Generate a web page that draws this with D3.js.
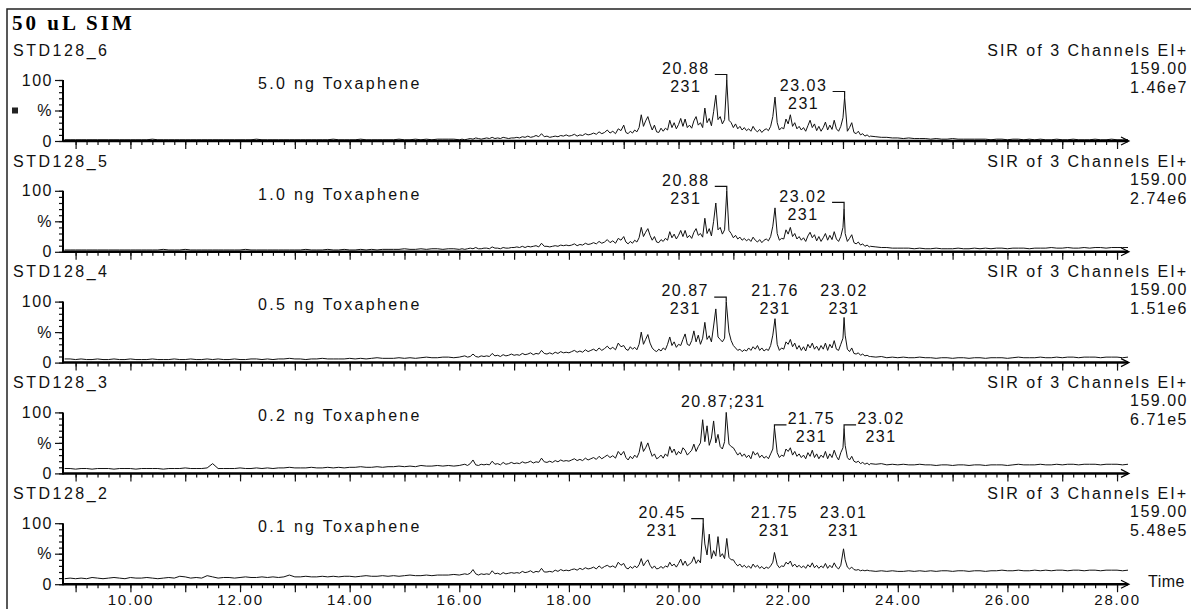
<!DOCTYPE html>
<html>
<head>
<meta charset="utf-8">
<script src="https://cdn.jsdelivr.net/npm/d3@7/dist/d3.min.js"></script>
<style>
  html, body { margin: 0; padding: 0; background: #fff; }
  svg { display: block; }
  text { font-family: "Liberation Sans", Arial, sans-serif; fill: #111; }
</style>
</head>
<body>
<svg id="chart" width="1191" height="609"></svg>
<script>
// ---- Acquisition sampling: [start minute, step, number of scans] ----
const sampleSegments = [[8.8, 0.1, 72], [16.0, 0.05, 60], [19.0, 0.04, 113], [23.5, 0.1, 48]];

// ---- Panel texts ----
const panelNames   = ["STD128_6", "STD128_5", "STD128_4", "STD128_3", "STD128_2"];
const panelAmounts = ["5.0 ng Toxaphene", "1.0 ng Toxaphene", "0.5 ng Toxaphene", "0.2 ng Toxaphene", "0.1 ng Toxaphene"];
const panelScales  = ["1.46e7", "2.74e6", "1.51e6", "6.71e5", "5.48e5"];
const channelTitle = "SIR of 3 Channels EI+";
const channelMass  = "159.00";
const quantIon     = "231";
const titleText    = "50 uL SIM";

// ---- Axis labels ----
const timeTickValues = [10, 12, 14, 16, 18, 20, 22, 24, 26, 28];
const timeTickLabels = ["10.00", "12.00", "14.00", "16.00", "18.00", "20.00", "22.00", "24.00", "26.00", "28.00"];
const yTickValues = [0, 50, 100];
const yTickLabels = ["0", "%", "100"];

// ---- Relative intensity (%) per scan, one array per injection ----
const trace128_6 = [
  2,2,2,2,2,2,2,2,2,2, 2,2,2,2,2,2,3,2,2,2, 2,2,2,2,2,2,2,2,2,2, 2,2,2,2,2,3,2,2,2,2,
  2,2,2,2,2,2,2,2,2,3, 2,2,2,2,3,2,2,2,2,2, 2,3,2,2,3,2,3,2,3,3, 3,3,
  2,3,2,3,4,3,5,4,3,4, 5,4,6,4,5,4,6,5,4,5, 5,6,5,7,6,8,6,7,9,7,
  12,7,8,6,7,8,7,9,8,10, 8,9,11,8,10,9,12,10,11,13, 11,15,12,14,18,13,16,12,20,17,
  26,14,12,16,13,18,15,22,43,24, 33,40,28,18,26,15,14,21,16,21, 18,34,22,30,20,27,37,24,36,22,
  26,21,33,40,26,30,22,54,30,37, 25,48,75,35,40,28,35,60,34,30, 22,28,20,24,18,22,17,20,16,24,
  18,15,19,14,18,20,17,24,40,72, 30,18,22,20,36,28,43,24,30,20, 24,18,22,16,25,34,22,28,17,24,
  16,22,31,18,26,19,34,20,16,24, 38,30,16,22,30,14,12,16,10,12, 8,10,7,
  8,7,6,6,5,5,4,5,4,4, 4,3,4,3,3,4,3,3,3,3, 3,3,2,3,3,2,3,3,2,3, 2,3,2,2,3,2,2,3,2,2, 2,3,2,2,3,2,2,2
];
const trace128_5 = [
  3,3,3,3,3,3,3,3,3,3, 3,3,3,3,3,3,3,3,4,3, 3,3,4,3,3,3,3,3,3,3, 3,3,3,4,3,3,3,3,3,3,
  3,3,3,3,4,3,3,3,4,3, 3,4,3,3,4,3,4,3,4,4, 4,4,5,4,4,5,4,5,5,4, 5,5,
  4,5,4,5,6,5,7,5,5,6, 6,5,8,6,6,5,7,6,6,7, 7,8,7,9,7,9,8,9,10,8,
  14,9,9,8,9,10,9,11,10,11, 10,11,13,10,12,11,14,12,13,15, 13,17,14,16,20,15,18,14,22,19,
  25,16,13,17,14,19,16,23,40,25, 32,38,27,19,25,16,15,20,17,22, 19,33,23,29,21,27,35,25,35,23,
  27,22,32,38,27,30,24,55,30,38, 26,50,80,36,40,29,36,60,35,30, 23,27,21,24,19,22,18,21,17,24,
  19,16,20,15,19,21,18,25,42,72, 30,19,22,21,36,29,40,25,30,21, 25,19,23,17,26,32,23,28,18,25,
  17,23,30,19,27,20,33,21,17,25, 40,30,17,22,28,15,13,16,11,13, 9,11,8,
  9,8,7,7,6,6,6,6,5,6, 5,5,6,5,5,5,6,5,5,6, 5,6,5,6,6,5,6,6,6,5, 6,6,6,7,6,6,7,6,6,7, 6,7,7,6,7,7,7,7
];
const trace128_4 = [
  6,6,5,6,5,5,6,5,5,6, 5,5,6,5,5,5,6,5,5,5, 6,5,5,6,5,5,6,5,6,5, 5,6,5,5,6,6,5,6,5,6,
  6,7,6,6,5,6,6,7,6,6, 6,6,7,6,7,6,7,8,7,7, 7,8,7,8,7,8,9,8,8,9, 9,8,
  9,10,11,9,10,14,10,9,11,10, 11,10,15,11,12,10,13,11,12,14, 12,13,12,15,13,14,16,13,15,14,
  20,15,14,16,14,17,15,18,16,17, 16,18,20,17,19,17,21,18,20,22, 19,24,20,23,27,22,25,21,32,26,
  28,22,20,26,22,25,21,30,50,30, 38,46,32,24,20,18,22,19,24,21, 30,42,28,34,25,30,28,38,47,30,
  28,36,52,34,45,30,40,66,38,44, 34,60,88,42,38,34,40,55,50,36, 28,24,20,22,18,21,19,24,20,26,
  22,28,20,24,19,22,20,28,45,40, 30,20,24,22,34,30,38,26,32,22, 28,20,26,19,30,24,32,22,27,20,
  28,22,32,20,30,24,36,22,20,30, 40,45,22,18,24,15,14,16,12,14, 11,12,10,
  10,9,10,8,9,8,9,8,8,9, 8,8,7,8,8,7,8,8,7,8, 8,7,8,8,8,7,8,9,8,8, 8,9,8,8,9,8,9,9,8,9, 9,9,8,9,9,9,8,9
];
const trace128_3 = [
  8,8,7,8,8,7,8,8,8,7, 8,8,8,7,8,8,8,8,7,8, 8,8,9,8,8,8,9,16,8,8, 8,8,9,8,8,9,8,9,8,9,
  9,10,9,9,9,10,9,9,10,9, 10,9,10,10,11,10,10,11,10,11, 11,12,11,12,11,13,12,12,13,12, 13,12,
  13,14,15,13,16,22,14,13,15,14, 15,14,20,15,16,14,18,15,16,18, 16,17,16,19,17,18,20,17,19,18,
  25,19,18,20,18,21,19,22,20,21, 20,22,24,21,23,21,25,22,24,26, 23,28,24,27,30,26,29,25,36,30,
  36,26,22,28,24,30,26,34,52,36, 42,50,38,28,32,24,26,30,25,32, 28,44,34,40,30,36,32,42,38,30,
  34,38,48,36,44,50,88,52,78,46, 58,86,50,64,44,40,52,60,48,44, 42,36,30,34,28,32,26,30,24,36,
  30,34,26,30,25,28,24,32,40,70, 34,26,30,28,40,36,42,30,36,28, 32,26,30,24,34,28,38,26,32,24,
  30,26,36,24,32,26,38,28,22,34, 42,46,26,22,28,20,18,20,16,18, 15,17,14,
  16,15,16,14,15,14,15,14,14,15, 14,14,13,14,14,13,14,14,13,14, 14,13,14,14,14,13,14,15,14,14, 14,15,14,14,15,14,15,15,14,15, 15,15,14,15,15,15,14,15
];
const trace128_2 = [
  9,10,9,10,9,11,10,9,10,11, 10,9,11,10,10,11,10,9,10,11, 10,13,12,10,11,10,14,12,10,11, 11,10,11,12,11,11,12,11,12,11,
  12,15,12,12,13,12,12,13,12,13, 12,13,13,12,13,14,13,13,14,13, 14,13,14,15,14,14,15,14,15,15, 15,16,
  15,16,17,16,18,24,17,15,17,16, 17,16,22,17,18,16,19,17,18,19, 18,19,18,21,19,20,22,19,21,20,
  26,20,20,21,20,23,21,24,22,23, 22,24,25,23,26,24,27,25,26,28, 25,30,26,29,31,28,30,27,36,31,
  34,27,25,29,26,30,27,32,42,30, 36,40,31,26,30,25,26,29,26,30, 28,36,30,33,28,34,41,31,38,30,
  33,36,45,34,40,35,40,66,48,82, 42,55,46,78,45,50,42,75,44,40, 40,34,30,33,28,31,27,30,26,33,
  28,31,26,29,25,28,26,30,36,44, 32,27,30,29,36,33,38,29,33,28, 31,27,30,26,32,28,35,27,31,26,
  30,27,34,26,31,27,35,28,25,31, 36,40,28,25,28,24,23,24,22,23, 22,23,22,
  22,21,22,21,22,21,21,22,21,22, 21,22,21,22,22,21,22,22,21,22, 22,21,22,22,23,22,22,23,22,22, 23,22,23,22,23,23,22,23,23,22, 23,23,22,23,23,23,22,23
];

// ---- Labelled peak apexes [retention time, %] ----
const apex128_6 = [[20.88, 100], [23.03, 72]];
const apex128_5 = [[20.88, 100], [23.02, 71]];
const apex128_4 = [[20.87, 100], [21.76, 72], [23.02, 74]];
const apex128_3 = [[20.87, 100], [21.75, 76], [23.02, 74]];
const apex128_2 = [[20.45, 100], [21.75, 52], [23.01, 58]];

const traces = [trace128_6, trace128_5, trace128_4, trace128_3, trace128_2];
const apexes = [apex128_6, apex128_5, apex128_4, apex128_3, apex128_2];

// ---- Drawing ----
const svg = d3.select("#chart");
const sampleTimes = sampleSegments.flatMap(([s, st, n]) => d3.range(n).map(i => +(s + i * st).toFixed(2)));

const x = d3.scaleLinear().domain([8.77, 28.2]).range([63, 1128]);
const PANEL_STEP = 110.8, TOP100 = 80, TOP0 = 141;

// how each peak annotation sits relative to its peak (mode, row offset from the 100% line)
const labelPlacement = [
  [{ mode: "left", row: -12 }, { mode: "left", row: 5 }],
  [{ mode: "left", row: -11 }, { mode: "left", row: 5 }],
  [{ mode: "left", row: -11 }, { mode: "center", row: -11 }, { mode: "center", row: -11 }],
  [{ mode: "inline", row: -11 }, { mode: "right", row: 6 }, { mode: "right", row: 6 }],
  [{ mode: "left", row: -11 }, { mode: "center", row: -11 }, { mode: "center", row: -11 }]
];

const fmtRT = d3.format(".2f");

function label(g, px, py, str, opt = {}) {
  return g.append("text")
    .attr("x", px).attr("y", py).attr("dy", "0.36em")
    .attr("text-anchor", opt.anchor || "start")
    .style("font-size", (opt.size || 16) + "px")
    .style("letter-spacing", (opt.ls == null ? 1.5 : opt.ls) + "px")
    .text(str);
}

function buildTrace(values, peaks) {
  const pts = sampleTimes.map((t, i) => [t, values[i]])
    .filter(p => p[1] != null && !peaks.some(a => Math.abs(a[0] - p[0]) < 0.015));
  return pts.concat(peaks).sort((a, b) => a[0] - b[0]);
}

// frame and title
svg.append("path").attr("d", "M7,609V9H1191").attr("fill", "none").attr("stroke", "#222").attr("stroke-width", 1.5);
svg.append("text").attr("x", 12).attr("y", 30)
  .style("font-family", '"Liberation Serif", "Times New Roman", serif')
  .style("font-weight", "bold").style("font-size", "21px").style("letter-spacing", "3px")
  .style("fill", "#000").text(titleText);

traces.forEach((values, k) => {
  const y100 = TOP100 + PANEL_STEP * k;
  const y0 = TOP0 + PANEL_STEP * k;
  const y = d3.scaleLinear().domain([0, 100]).range([y0, y100]);
  const g = svg.append("g");

  // header texts
  label(g, 13, y100 - 30, panelNames[k], { ls: 2.5 });
  label(g, 1188, y100 - 30, channelTitle, { anchor: "end", ls: 2 });
  label(g, 1188, y100 - 12, channelMass, { anchor: "end" });
  label(g, 1188, y100 + 7, panelScales[k], { anchor: "end" });
  label(g, 258, y100 + 3, panelAmounts[k], { ls: 2.3 });

  // trace
  const pts = buildTrace(values, apexes[k]);
  g.append("path").datum(pts)
    .attr("fill", "none").attr("stroke", "#111").attr("stroke-width", 1)
    .attr("d", d3.line().x(d => x(d[0])).y(d => y(d[1])));

  // y axis
  const yMinor = g.append("g").attr("transform", "translate(63,0)")
    .call(d3.axisLeft(y).tickValues(d3.range(0, 101, 10)).tickSize(4).tickFormat(""));
  const yMajor = g.append("g").attr("transform", "translate(63,0)")
    .call(d3.axisLeft(y).tickValues(yTickValues).tickSize(8).tickPadding(2)
      .tickFormat((d, i) => yTickLabels[i]));
  [yMinor, yMajor].forEach(a => {
    a.select(".domain").remove();
    a.selectAll("line").attr("stroke", "#111").attr("stroke-width", 1.2);
    a.selectAll("text").style("font-size", "16px").style("letter-spacing", "1.5px")
      .style("font-family", '"Liberation Sans", Arial, sans-serif').attr("fill", "#111");
  });
  g.append("line").attr("x1", 63).attr("x2", 63).attr("y1", y100).attr("y2", y0 + 1)
    .attr("stroke", "#000").attr("stroke-width", 2);
  if (k === 0) {
    g.append("rect").attr("x", 12).attr("y", y(50) - 3).attr("width", 6).attr("height", 6).attr("fill", "#222");
  }

  // x axis
  const xMinor = g.append("g").attr("transform", `translate(0,${y0})`)
    .call(d3.axisBottom(x).tickValues(d3.range(9.0, 28.11, 0.2)).tickSize(4).tickFormat(""));
  const xMajor = g.append("g").attr("transform", `translate(0,${y0})`)
    .call(d3.axisBottom(x).tickValues(d3.range(9, 29, 1)).tickSize(8).tickFormat(""));
  [xMinor, xMajor].forEach(a => {
    a.select(".domain").remove();
    a.selectAll("line").attr("stroke", "#111").attr("stroke-width", 1.2);
  });
  g.append("line").attr("x1", 63).attr("x2", 1128).attr("y1", y0).attr("y2", y0)
    .attr("stroke", "#000").attr("stroke-width", 2.5);
  g.append("path").attr("d", `M1121,${y0 - 4}L1129,${y0}L1121,${y0 + 4}`)
    .attr("fill", "none").attr("stroke", "#000").attr("stroke-width", 1.2);

  if (k === traces.length - 1) {
    const xLab = g.append("g").attr("transform", `translate(0,${y0})`)
      .call(d3.axisBottom(x).tickValues(timeTickValues).tickSize(0).tickPadding(10)
        .tickFormat((d, i) => timeTickLabels[i]));
    xLab.select(".domain").remove();
    xLab.selectAll("text").style("font-size", "15px").style("letter-spacing", "1.8px")
      .style("font-family", '"Liberation Sans", Arial, sans-serif').attr("fill", "#111");
    label(g, 1148, y0 - 3, "Time", { ls: 0.5 });
  }

  // peak annotations
  apexes[k].forEach((p, j) => {
    const place = labelPlacement[k][j];
    const px = x(p[0]), pt = y(p[1]);
    const ly = y100 + place.row;
    const rt = fmtRT(p[0]);
    if (place.mode === "inline") {
      label(g, px - 3, ly, `${rt};${quantIon}`, { anchor: "middle" });
      return;
    }
    let tx = px;
    if (place.mode === "left") tx = px - 41;
    if (place.mode === "right") tx = px + 37;
    label(g, tx, ly, rt, { anchor: "middle" });
    label(g, tx, ly + 18, quantIon, { anchor: "middle" });
    if (place.mode === "left" || place.mode === "right") {
      const bx = place.mode === "left" ? px - 12 : px + 12;
      const by = ly + 6.5;
      g.append("path").attr("d", `M${bx},${by}H${px}V${pt}`)
        .attr("fill", "none").attr("stroke", "#111").attr("stroke-width", 1.2);
    }
  });
});
</script>
</body>
</html>
